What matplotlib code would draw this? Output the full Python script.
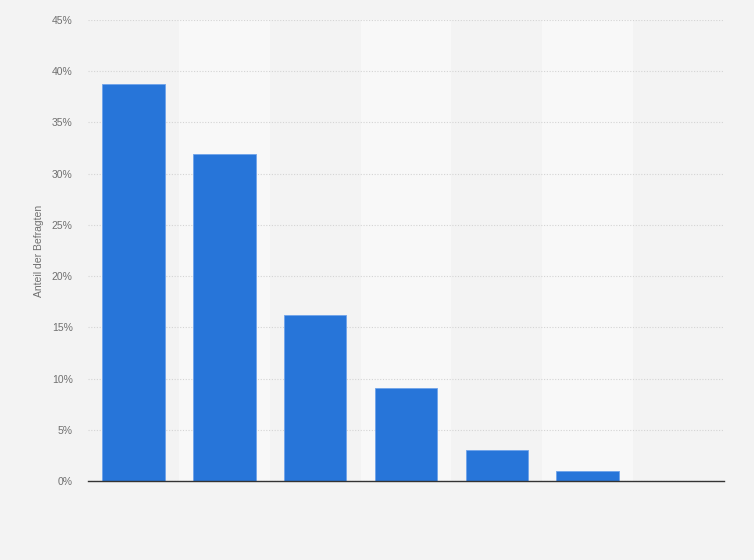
import numpy as np
import matplotlib
matplotlib.use("Agg")
import matplotlib.pyplot as plt
from matplotlib.ticker import FuncFormatter

# Values (share of respondents, %)
categories = ["", "", "", "", "", "", ""]
shares = [38.8, 31.9, 16.2, 9.1, 3.0, 1.0, 0.0]
y_ticks = [0, 5, 10, 15, 20, 25, 30, 35, 40, 45]

bar_color = "#2775d9"
bg = "#f3f3f3"
band = "#f8f8f8"

plt.rcParams['font.family'] = ['Liberation Sans', 'DejaVu Sans']

fig = plt.figure(figsize=(7.54, 5.6), dpi=100, facecolor=bg)
ax = fig.add_axes([0.1167, 0.1411, 0.8435, 0.8232])
ax.set_facecolor(bg)

x = np.arange(len(categories))

# alternating column bands
for i in x:
    if i % 2 == 1:
        ax.axvspan(i - 0.5, i + 0.5, color=band, zorder=0, lw=0)

ax.bar(x, shares, width=0.69, color=bar_color, edgecolor="#6fa3ea",
       linewidth=0.6, zorder=3)

ax.set_xlim(-0.5, len(categories) - 0.5)
ax.set_ylim(0, 45)
ax.set_yticks(y_ticks)
ax.yaxis.set_major_formatter(FuncFormatter(lambda v, p: f"{int(v)}%"))
ax.set_xticks(x)
ax.set_xticklabels(categories)
ax.tick_params(axis="x", length=0)
ax.tick_params(axis="y", length=0, labelsize=7.5, labelcolor="#707070", pad=11)

ax.grid(axis="y", color="#d4d4d4", linestyle=(0, (1, 1.5)), linewidth=0.8, zorder=1)
ax.set_axisbelow(True)

for side in ["top", "right", "left"]:
    ax.spines[side].set_visible(False)
ax.spines["bottom"].set_color("#333333")
ax.spines["bottom"].set_linewidth(1.0)
ax.spines["bottom"].set_zorder(4)

ax.set_ylabel("Anteil der Befragten", fontsize=7.5, color="#707070", labelpad=6)

fig.savefig("out.png", dpi=100, facecolor=bg)
